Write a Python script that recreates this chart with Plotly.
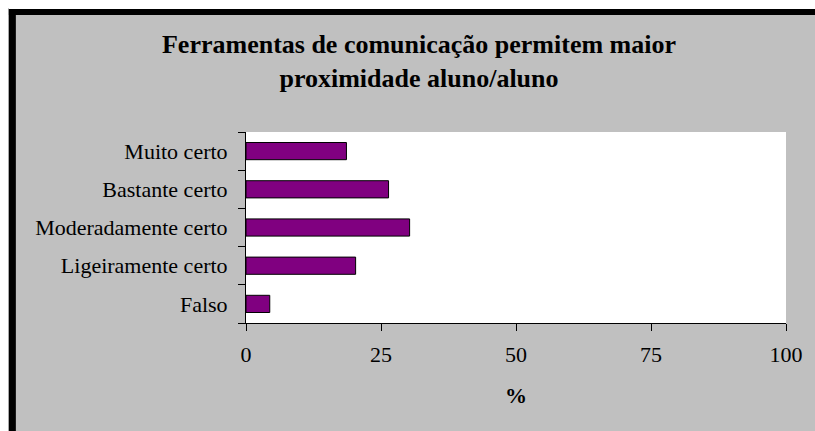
import plotly.graph_objects as go

categories = ["Falso", "Ligeiramente certo", "Moderadamente certo", "Bastante certo", "Muito certo"]
values = [4.4, 20.3, 30.3, 26.4, 18.6]
x_ticks = [0, 25, 50, 75, 100]
title_text = "Ferramentas de comunicação permitem maior<br>proximidade aluno/aluno"
x_title = "%"

W, H = 807, 423
L, R, T, B = 238, 27, 124, 108
pw, ph = W - L - R, H - T - B


def px(x):
    return (x - L) / pw


def py(y):
    return (H - B - y) / ph


FONT = "Liberation Serif, Times New Roman, serif"

fig = go.Figure()
fig.add_trace(go.Bar(
    x=values, y=categories, orientation="h",
    marker=dict(color="#800080", line=dict(color="#000000", width=1)),
    width=0.45, hoverinfo="skip",
))

shapes = [
    dict(type="rect", xref="paper", yref="paper", x0=px(0), x1=px(7), y0=py(H + 5), y1=py(1),
         fillcolor="#000000", line=dict(width=0), layer="below"),
    dict(type="rect", xref="paper", yref="paper", x0=px(0), x1=px(W + 5), y0=py(7), y1=py(1),
         fillcolor="#000000", line=dict(width=0), layer="below"),
    dict(type="rect", xref="paper", yref="paper", x0=px(0), x1=px(W + 5), y0=py(1), y1=py(-5),
         fillcolor="#ffffff", line=dict(width=0), layer="below"),
]

fig.update_layout(
    width=W, height=H,
    margin=dict(l=L, r=R, t=T, b=B, pad=0),
    paper_bgcolor="#c0c0c0",
    plot_bgcolor="#ffffff",
    showlegend=False,
    shapes=shapes,
    title=dict(
        text=title_text,
        font=dict(family=FONT, size=26, color="#000000", weight="bold"),
        x=411 / W, xanchor="center", xref="container",
        y=1 - 45 / H, yanchor="top", yref="container",
    ),
    font=dict(family=FONT, color="#000000"),
    xaxis=dict(
        range=[0, 100], tickvals=x_ticks, ticktext=[str(v) for v in x_ticks],
        showgrid=False, zeroline=False,
        showline=True, linecolor="#000000", linewidth=1,
        ticks="outside", ticklen=7, tickcolor="#000000", tickwidth=1,
        tickfont=dict(family=FONT, size=22, color="#000000"),
        ticklabelstandoff=5,
        title=dict(text=x_title, font=dict(family=FONT, size=22, color="#000000", weight="bold"), standoff=21),
        fixedrange=True,
    ),
    yaxis=dict(
        type="category", categoryorder="array", categoryarray=categories,
        range=[-0.5, 4.5],
        showgrid=False, zeroline=False,
        showline=True, linecolor="#000000", linewidth=1,
        ticks="outside", tickson="boundaries", ticklen=7, tickcolor="#000000", tickwidth=1,
        tickfont=dict(family=FONT, size=22, color="#000000"),
        ticklabelstandoff=13,
        fixedrange=True,
    ),
)

fig.write_html(
    "out.html",
    config={"displayModeBar": False},
    post_script=(
        "document.documentElement.style.overflow='hidden';"
        "document.body.style.overflow='hidden';"
        "document.body.style.margin='8px 0 0 8px';"
    ),
)
